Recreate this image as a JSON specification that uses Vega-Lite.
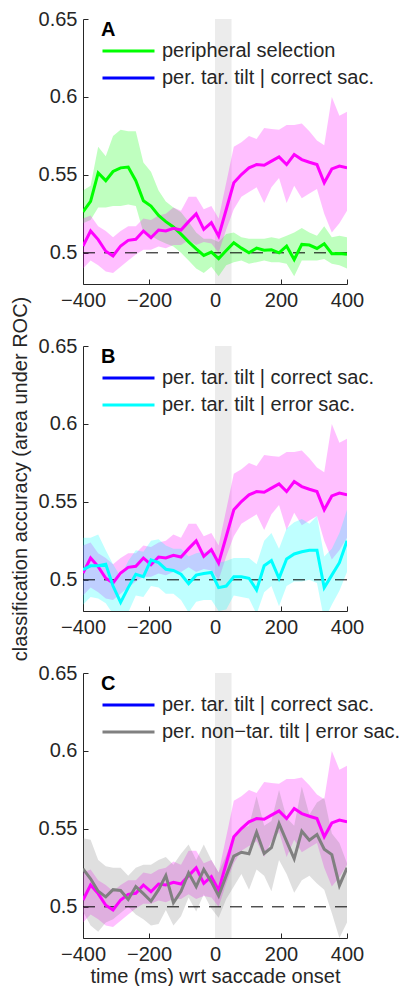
{
  "$schema": "https://vega.github.io/schema/vega-lite/v6.json",
  "padding": {"left": 10, "top": 9, "right": 5, "bottom": 0},
  "background": "white",
  "config": {
    "view": {"stroke": null},
    "font": "Liberation Sans",
    "axis": {
      "domainColor": "#262626", "tickColor": "#262626", "labelColor": "#262626", "titleColor": "#262626",
      "labelFont": "Liberation Sans", "titleFont": "Liberation Sans", "labelFontSize": 20, "titleFontSize": 20,
      "titleFontWeight": "normal", "grid": false, "tickSize": -5, "labelPadding": 11, "domainWidth": 1, "tickWidth": 1
    },
    "legend": {
      "titleFont": "Liberation Sans", "titleFontSize": 20, "titleFontWeight": "bold", "titleColor": "#000000", "titlePadding": 1,
      "labelFont": "Liberation Sans", "labelFontSize": 20, "labelColor": "#262626", "labelLimit": 500, "labelOffset": 6,
      "symbolType": "stroke", "symbolSize": 2704, "symbolStrokeWidth": 3, "symbolOpacity": 1, "clipHeight": 20, "rowPadding": 7, "padding": 0
    }
  },
  "datasets": {
    "d": [
      {"t": -400, "m": 0.5043, "ml": 0.490, "mh": 0.522, "gn": 0.5263, "gnl": 0.519, "gnh": 0.540, "cy": 0.5065, "cyl": 0.484, "cyh": 0.527, "gr": 0.5244, "grl": 0.497, "grh": 0.544},
      {"t": -377, "m": 0.514, "ml": 0.495, "mh": 0.524, "gn": 0.533, "gnl": 0.521, "gnh": 0.543, "cy": 0.509, "cyl": 0.489, "cyh": 0.527, "gr": 0.518, "grl": 0.488, "grh": 0.543},
      {"t": -354, "m": 0.5085, "ml": 0.492, "mh": 0.517, "gn": 0.5513, "gnl": 0.529, "gnh": 0.568, "cy": 0.509, "cyl": 0.488, "cyh": 0.529, "gr": 0.510, "grl": 0.484, "grh": 0.530},
      {"t": -331, "m": 0.501, "ml": 0.488, "mh": 0.514, "gn": 0.5463, "gnl": 0.529, "gnh": 0.562, "cy": 0.510, "cyl": 0.485, "cyh": 0.519, "gr": 0.5064, "grl": 0.490, "grh": 0.526},
      {"t": -309, "m": 0.498, "ml": 0.487, "mh": 0.510, "gn": 0.5522, "gnl": 0.530, "gnh": 0.575, "cy": 0.496, "cyl": 0.478, "cyh": 0.510, "gr": 0.511, "grl": 0.492, "grh": 0.525},
      {"t": -286, "m": 0.5044, "ml": 0.491, "mh": 0.514, "gn": 0.5545, "gnl": 0.530, "gnh": 0.579, "cy": 0.4855, "cyl": 0.470, "cyh": 0.502, "gr": 0.5105, "grl": 0.496, "grh": 0.525},
      {"t": -263, "m": 0.508, "ml": 0.495, "mh": 0.517, "gn": 0.555, "gnl": 0.531, "gnh": 0.578, "cy": 0.495, "cyl": 0.479, "cyh": 0.512, "gr": 0.5047, "grl": 0.500, "grh": 0.520},
      {"t": -240, "m": 0.5087, "ml": 0.499, "mh": 0.517, "gn": 0.5463, "gnl": 0.530, "gnh": 0.578, "cy": 0.5036, "cyl": 0.490, "cyh": 0.519, "gr": 0.513, "grl": 0.495, "grh": 0.525},
      {"t": -217, "m": 0.514, "ml": 0.502, "mh": 0.522, "gn": 0.5334, "gnl": 0.513, "gnh": 0.558, "cy": 0.502, "cyl": 0.489, "cyh": 0.518, "gr": 0.5085, "grl": 0.492, "grh": 0.527},
      {"t": -194, "m": 0.5097, "ml": 0.502, "mh": 0.521, "gn": 0.530, "gnl": 0.511, "gnh": 0.552, "cy": 0.5128, "cyl": 0.496, "cyh": 0.525, "gr": 0.5036, "grl": 0.488, "grh": 0.527},
      {"t": -171, "m": 0.5146, "ml": 0.504, "mh": 0.524, "gn": 0.524, "gnl": 0.508, "gnh": 0.540, "cy": 0.511, "cyl": 0.495, "cyh": 0.526, "gr": 0.511, "grl": 0.489, "grh": 0.530},
      {"t": -149, "m": 0.514, "ml": 0.503, "mh": 0.525, "gn": 0.520, "gnl": 0.506, "gnh": 0.533, "cy": 0.5068, "cyl": 0.491, "cyh": 0.522, "gr": 0.520, "grl": 0.498, "grh": 0.532},
      {"t": -126, "m": 0.5157, "ml": 0.505, "mh": 0.529, "gn": 0.5166, "gnl": 0.504, "gnh": 0.529, "cy": 0.506, "cyl": 0.491, "cyh": 0.520, "gr": 0.5026, "grl": 0.488, "grh": 0.527},
      {"t": -103, "m": 0.5146, "ml": 0.505, "mh": 0.527, "gn": 0.512, "gnl": 0.500, "gnh": 0.526, "cy": 0.5036, "cyl": 0.487, "cyh": 0.520, "gr": 0.510, "grl": 0.494, "grh": 0.534},
      {"t": -80, "m": 0.520, "ml": 0.508, "mh": 0.536, "gn": 0.507, "gnl": 0.495, "gnh": 0.520, "cy": 0.4975, "cyl": 0.479, "cyh": 0.515, "gr": 0.5218, "grl": 0.506, "grh": 0.540},
      {"t": -57, "m": 0.525, "ml": 0.505, "mh": 0.536, "gn": 0.5025, "gnl": 0.490, "gnh": 0.513, "cy": 0.503, "cyl": 0.486, "cyh": 0.517, "gr": 0.513, "grl": 0.497, "grh": 0.530},
      {"t": -34, "m": 0.515, "ml": 0.507, "mh": 0.528, "gn": 0.4983, "gnl": 0.487, "gnh": 0.509, "cy": 0.504, "cyl": 0.487, "cyh": 0.518, "gr": 0.524, "grl": 0.508, "grh": 0.540},
      {"t": -11, "m": 0.5193, "ml": 0.506, "mh": 0.530, "gn": 0.5005, "gnl": 0.491, "gnh": 0.509, "cy": 0.5047, "cyl": 0.487, "cyh": 0.518, "gr": 0.516, "grl": 0.499, "grh": 0.530},
      {"t": 11, "m": 0.5107, "ml": 0.500, "mh": 0.522, "gn": 0.4963, "gnl": 0.485, "gnh": 0.507, "cy": 0.495, "cyl": 0.480, "cyh": 0.511, "gr": 0.507, "grl": 0.493, "grh": 0.522},
      {"t": 34, "m": 0.5278, "ml": 0.515, "mh": 0.545, "gn": 0.5015, "gnl": 0.492, "gnh": 0.512, "cy": 0.496, "cyl": 0.481, "cyh": 0.512, "gr": 0.520, "grl": 0.505, "grh": 0.533},
      {"t": 57, "m": 0.5449, "ml": 0.528, "mh": 0.568, "gn": 0.5065, "gnl": 0.494, "gnh": 0.513, "cy": 0.502, "cyl": 0.490, "cyh": 0.514, "gr": 0.5325, "grl": 0.513, "grh": 0.545},
      {"t": 80, "m": 0.5502, "ml": 0.536, "mh": 0.571, "gn": 0.503, "gnl": 0.495, "gnh": 0.510, "cy": 0.502, "cyl": 0.489, "cyh": 0.514, "gr": 0.535, "grl": 0.521, "grh": 0.550},
      {"t": 103, "m": 0.5545, "ml": 0.539, "mh": 0.575, "gn": 0.500, "gnl": 0.493, "gnh": 0.509, "cy": 0.501, "cyl": 0.488, "cyh": 0.514, "gr": 0.534, "grl": 0.511, "grh": 0.552},
      {"t": 126, "m": 0.5566, "ml": 0.542, "mh": 0.573, "gn": 0.503, "gnl": 0.494, "gnh": 0.509, "cy": 0.4935, "cyl": 0.478, "cyh": 0.510, "gr": 0.5479, "grl": 0.524, "grh": 0.571},
      {"t": 149, "m": 0.5562, "ml": 0.532, "mh": 0.580, "gn": 0.5017, "gnl": 0.495, "gnh": 0.509, "cy": 0.509, "cyl": 0.492, "cyh": 0.525, "gr": 0.5342, "grl": 0.520, "grh": 0.552},
      {"t": 171, "m": 0.5588, "ml": 0.542, "mh": 0.5795, "gn": 0.502, "gnl": 0.494, "gnh": 0.510, "cy": 0.5123, "cyl": 0.496, "cyh": 0.530, "gr": 0.538, "grl": 0.510, "grh": 0.555},
      {"t": 194, "m": 0.5615, "ml": 0.548, "mh": 0.579, "gn": 0.500, "gnl": 0.494, "gnh": 0.509, "cy": 0.501, "cyl": 0.483, "cyh": 0.520, "gr": 0.5534, "grl": 0.530, "grh": 0.575},
      {"t": 217, "m": 0.5566, "ml": 0.532, "mh": 0.582, "gn": 0.5043, "gnl": 0.493, "gnh": 0.511, "cy": 0.5134, "cyl": 0.496, "cyh": 0.533, "gr": 0.542, "grl": 0.521, "grh": 0.557},
      {"t": 240, "m": 0.563, "ml": 0.543, "mh": 0.582, "gn": 0.4957, "gnl": 0.485, "gnh": 0.513, "cy": 0.5166, "cyl": 0.499, "cyh": 0.537, "gr": 0.5308, "grl": 0.509, "grh": 0.552},
      {"t": 263, "m": 0.5598, "ml": 0.535, "mh": 0.583, "gn": 0.5054, "gnl": 0.495, "gnh": 0.516, "cy": 0.518, "cyl": 0.499, "cyh": 0.539, "gr": 0.5485, "grl": 0.517, "grh": 0.577},
      {"t": 286, "m": 0.5581, "ml": 0.538, "mh": 0.578, "gn": 0.505, "gnl": 0.495, "gnh": 0.513, "cy": 0.519, "cyl": 0.500, "cyh": 0.536, "gr": 0.5427, "grl": 0.520, "grh": 0.559},
      {"t": 309, "m": 0.5566, "ml": 0.541, "mh": 0.572, "gn": 0.5028, "gnl": 0.495, "gnh": 0.511, "cy": 0.519, "cyl": 0.498, "cyh": 0.541, "gr": 0.5464, "grl": 0.515, "grh": 0.567},
      {"t": 331, "m": 0.5449, "ml": 0.525, "mh": 0.569, "gn": 0.5058, "gnl": 0.496, "gnh": 0.517, "cy": 0.495, "cyl": 0.474, "cyh": 0.515, "gr": 0.537, "grl": 0.511, "grh": 0.570},
      {"t": 354, "m": 0.5538, "ml": 0.513, "mh": 0.600, "gn": 0.4994, "gnl": 0.493, "gnh": 0.510, "cy": 0.503, "cyl": 0.484, "cyh": 0.520, "gr": 0.5335, "grl": 0.496, "grh": 0.547},
      {"t": 377, "m": 0.5556, "ml": 0.519, "mh": 0.588, "gn": 0.4995, "gnl": 0.492, "gnh": 0.511, "cy": 0.511, "cyl": 0.493, "cyh": 0.530, "gr": 0.5137, "grl": 0.480, "grh": 0.541},
      {"t": 400, "m": 0.5545, "ml": 0.527, "mh": 0.5905, "gn": 0.499, "gnl": 0.490, "gnh": 0.510, "cy": 0.525, "cyl": 0.505, "cyh": 0.545, "gr": 0.525, "grl": 0.490, "grh": 0.528}
    ]
  },
  "spacing": 62,
  "bounds": "flush",
  "resolve": {"scale": {"color": "independent"}, "legend": {"color": "independent"}},
  "vconcat": [
    {
      "width": 264, "height": 265,
      "data": {"name": "d"},
      "layer": [
        {"data": {"values": [{}]}, "mark": {"type": "rect", "color": "#ececec"}, "encoding": {"x": {"datum": 0, "type": "quantitative", "scale": {"domain": [-400, 400], "nice": false, "zero": false}}, "x2": {"datum": 50}}},
        {"mark": {"type": "area", "color": "#00ff00", "opacity": 0.25, "clip": true}, "encoding": {
          "x": {"field": "t", "type": "quantitative", "scale": {"domain": [-400, 400], "nice": false, "zero": false}, "axis": {"values": [-400, -200, 0, 200, 400], "labelFlush": false, "title": null}},
          "y": {"field": "gnl", "type": "quantitative", "scale": {"domain": [0.48, 0.65], "nice": false, "zero": false}, "axis": {"values": [0.5, 0.55, 0.6, 0.65], "format": "~g", "title": null}},
          "y2": {"field": "gnh"}}},
        {"mark": {"type": "area", "color": "#ff00ff", "opacity": 0.25, "clip": true}, "encoding": {
          "x": {"field": "t", "type": "quantitative"},
          "y": {"field": "ml", "type": "quantitative", "scale": {"domain": [0.48, 0.65], "nice": false, "zero": false}},
          "y2": {"field": "mh"}}},
        {"data": {"values": [{}]}, "mark": {"type": "rule", "color": "#000000", "strokeDash": [12, 9], "strokeWidth": 1}, "encoding": {"y": {"datum": 0.5, "type": "quantitative", "scale": {"domain": [0.48, 0.65], "nice": false, "zero": false}}}},
        {"mark": {"type": "line", "strokeWidth": 3, "clip": true}, "encoding": {
          "x": {"field": "t", "type": "quantitative"},
          "y": {"field": "gn", "type": "quantitative", "scale": {"domain": [0.48, 0.65], "nice": false, "zero": false}},
          "color": {"datum": "peripheral selection", "type": "nominal",
            "scale": {"domain": ["peripheral selection", "per. tar. tilt | correct sac."], "range": ["#00ff00", "#0000ff"]},
            "legend": {"title": "A", "orient": "none", "legendX": 18, "legendY": 1}}}},
        {"mark": {"type": "line", "strokeWidth": 1, "clip": true}, "encoding": {
          "x": {"field": "t", "type": "quantitative"},
          "y": {"field": "m", "type": "quantitative", "scale": {"domain": [0.48, 0.65], "nice": false, "zero": false}},
          "color": {"datum": "per. tar. tilt | correct sac.", "type": "nominal"}}},
        {"mark": {"type": "line", "strokeWidth": 3, "color": "#ff00ff", "clip": true}, "encoding": {
          "x": {"field": "t", "type": "quantitative"},
          "y": {"field": "m", "type": "quantitative", "scale": {"domain": [0.48, 0.65], "nice": false, "zero": false}}}}
      ]
    },
    {
      "width": 264, "height": 265,
      "data": {"name": "d"},
      "layer": [
        {"data": {"values": [{}]}, "mark": {"type": "rect", "color": "#ececec"}, "encoding": {"x": {"datum": 0, "type": "quantitative", "scale": {"domain": [-400, 400], "nice": false, "zero": false}}, "x2": {"datum": 50}}},
        {"mark": {"type": "area", "color": "#ff00ff", "opacity": 0.25, "clip": true}, "encoding": {
          "x": {"field": "t", "type": "quantitative", "scale": {"domain": [-400, 400], "nice": false, "zero": false}, "axis": {"values": [-400, -200, 0, 200, 400], "labelFlush": false, "title": null}},
          "y": {"field": "ml", "type": "quantitative", "scale": {"domain": [0.48, 0.65], "nice": false, "zero": false}, "axis": {"values": [0.5, 0.55, 0.6, 0.65], "format": "~g", "title": "classification accuracy (area under ROC)", "titlePadding": 8}},
          "y2": {"field": "mh"}}},
        {"mark": {"type": "area", "color": "#00ffff", "opacity": 0.25, "clip": true}, "encoding": {
          "x": {"field": "t", "type": "quantitative"},
          "y": {"field": "cyl", "type": "quantitative", "scale": {"domain": [0.48, 0.65], "nice": false, "zero": false}},
          "y2": {"field": "cyh"}}},
        {"data": {"values": [{}]}, "mark": {"type": "rule", "color": "#000000", "strokeDash": [12, 9], "strokeWidth": 1}, "encoding": {"y": {"datum": 0.5, "type": "quantitative", "scale": {"domain": [0.48, 0.65], "nice": false, "zero": false}}}},
        {"mark": {"type": "line", "strokeWidth": 1, "clip": true}, "encoding": {
          "x": {"field": "t", "type": "quantitative"},
          "y": {"field": "m", "type": "quantitative", "scale": {"domain": [0.48, 0.65], "nice": false, "zero": false}},
          "color": {"datum": "per. tar. tilt | correct sac.", "type": "nominal",
            "scale": {"domain": ["per. tar. tilt | correct sac.", "per. tar. tilt | error sac."], "range": ["#0000ff", "#00ffff"]},
            "legend": {"title": "B", "orient": "none", "legendX": 18, "legendY": 1}}}},
        {"mark": {"type": "line", "strokeWidth": 3, "color": "#ff00ff", "clip": true}, "encoding": {
          "x": {"field": "t", "type": "quantitative"},
          "y": {"field": "m", "type": "quantitative", "scale": {"domain": [0.48, 0.65], "nice": false, "zero": false}}}},
        {"mark": {"type": "line", "strokeWidth": 3, "clip": true}, "encoding": {
          "x": {"field": "t", "type": "quantitative"},
          "y": {"field": "cy", "type": "quantitative", "scale": {"domain": [0.48, 0.65], "nice": false, "zero": false}},
          "color": {"datum": "per. tar. tilt | error sac.", "type": "nominal"}}}
      ]
    },
    {
      "width": 264, "height": 265,
      "data": {"name": "d"},
      "layer": [
        {"data": {"values": [{}]}, "mark": {"type": "rect", "color": "#ececec"}, "encoding": {"x": {"datum": 0, "type": "quantitative", "scale": {"domain": [-400, 400], "nice": false, "zero": false}}, "x2": {"datum": 50}}},
        {"mark": {"type": "area", "color": "#ff00ff", "opacity": 0.25, "clip": true}, "encoding": {
          "x": {"field": "t", "type": "quantitative", "scale": {"domain": [-400, 400], "nice": false, "zero": false}, "axis": {"values": [-400, -200, 0, 200, 400], "labelFlush": false, "title": "time (ms) wrt saccade onset", "titlePadding": 2}},
          "y": {"field": "ml", "type": "quantitative", "scale": {"domain": [0.48, 0.65], "nice": false, "zero": false}, "axis": {"values": [0.5, 0.55, 0.6, 0.65], "format": "~g", "title": null}},
          "y2": {"field": "mh"}}},
        {"mark": {"type": "area", "color": "#808080", "opacity": 0.25, "clip": true}, "encoding": {
          "x": {"field": "t", "type": "quantitative"},
          "y": {"field": "grl", "type": "quantitative", "scale": {"domain": [0.48, 0.65], "nice": false, "zero": false}},
          "y2": {"field": "grh"}}},
        {"data": {"values": [{}]}, "mark": {"type": "rule", "color": "#000000", "strokeDash": [12, 9], "strokeWidth": 1}, "encoding": {"y": {"datum": 0.5, "type": "quantitative", "scale": {"domain": [0.48, 0.65], "nice": false, "zero": false}}}},
        {"mark": {"type": "line", "strokeWidth": 1, "clip": true}, "encoding": {
          "x": {"field": "t", "type": "quantitative"},
          "y": {"field": "m", "type": "quantitative", "scale": {"domain": [0.48, 0.65], "nice": false, "zero": false}},
          "color": {"datum": "per. tar. tilt | correct sac.", "type": "nominal",
            "scale": {"domain": ["per. tar. tilt | correct sac.", "per. non−tar. tilt | error sac."], "range": ["#0000ff", "#808080"]},
            "legend": {"title": "C", "orient": "none", "legendX": 18, "legendY": 1}}}},
        {"mark": {"type": "line", "strokeWidth": 3, "color": "#ff00ff", "clip": true}, "encoding": {
          "x": {"field": "t", "type": "quantitative"},
          "y": {"field": "m", "type": "quantitative", "scale": {"domain": [0.48, 0.65], "nice": false, "zero": false}}}},
        {"mark": {"type": "line", "strokeWidth": 3, "clip": true}, "encoding": {
          "x": {"field": "t", "type": "quantitative"},
          "y": {"field": "gr", "type": "quantitative", "scale": {"domain": [0.48, 0.65], "nice": false, "zero": false}},
          "color": {"datum": "per. non−tar. tilt | error sac.", "type": "nominal"}}}
      ]
    }
  ]
}
